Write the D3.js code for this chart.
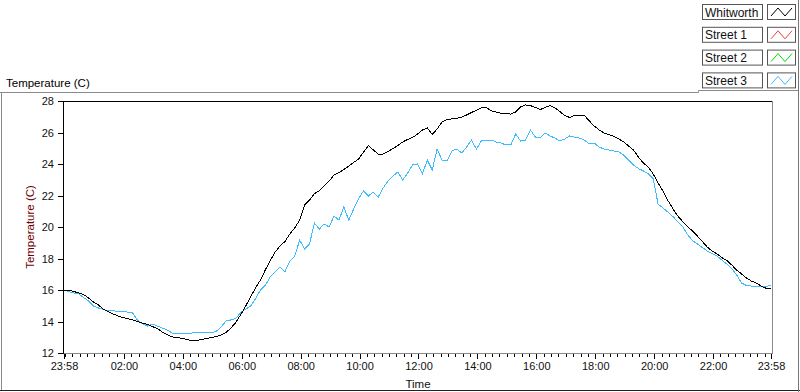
<!DOCTYPE html>
<html lang="en">
<head>
<meta charset="UTF-8">
<title>Temperature (C)</title>
<script src="https://d3js.org/d3.v7.min.js"></script>
<style>
  body { margin: 0; background: #fff; }
  svg { display: block; font-family: "Liberation Sans", Arial, sans-serif; }
</style>
</head>
<body>
<div id="chart"></div>
<script>
// readings every 10 minutes, from 23:58 to 23:58 next day
var startTime = new Date(2020, 0, 1, 23, 58)
var endTime = new Date(2020, 0, 2, 23, 58)
var stepMinutes = 10

var whitworth = [
  16.00, 15.98, 15.90, 15.82, 15.71, 15.49, 15.24, 15.05, 14.79, 14.63,
  14.48, 14.35, 14.25, 14.17, 14.10, 14.00, 13.90, 13.81, 13.68, 13.56,
  13.33, 13.16, 13.03, 12.98, 12.93, 12.86, 12.79, 12.79, 12.86, 12.91,
  12.98, 13.05, 13.14, 13.30, 13.59, 13.94, 14.44, 14.98, 15.56, 16.13,
  16.63, 17.27, 17.87, 18.41, 18.79, 19.08, 19.56, 19.94, 20.44, 21.40,
  21.71, 22.11, 22.30, 22.60, 22.92, 23.30, 23.46, 23.65, 23.87, 24.10,
  24.32, 24.76, 25.17, 24.89, 24.63, 24.63, 24.79, 24.98, 25.17, 25.40,
  25.56, 25.68, 25.90, 26.16, 26.29, 25.87, 26.22, 26.67, 26.83, 26.86,
  26.89, 26.98, 27.11, 27.27, 27.41, 27.56, 27.59, 27.38, 27.30, 27.22,
  27.21, 27.17, 27.30, 27.62, 27.75, 27.71, 27.59, 27.46, 27.59, 27.71,
  27.56, 27.33, 27.08, 26.95, 27.11, 27.11, 27.08, 26.73, 26.41, 26.16,
  25.97, 25.87, 25.75, 25.59, 25.40, 25.14, 24.89, 24.44, 24.06, 23.81,
  23.37, 22.79, 22.29, 21.68, 21.17, 20.70, 20.35, 20.03, 19.75, 19.43,
  19.08, 18.73, 18.48, 18.29, 18.06, 17.87, 17.59, 17.27, 17.02, 16.76,
  16.57, 16.44, 16.25, 16.11, 16.11
]

var street3 = [
  16.00, 15.90, 15.81, 15.75, 15.52, 15.30, 14.98, 14.86, 14.76, 14.67,
  14.70, 14.60, 14.63, 14.60, 14.54, 14.06, 13.87, 13.71, 13.84, 13.71,
  13.59, 13.46, 13.27, 13.21, 13.21, 13.21, 13.27, 13.33, 13.30, 13.27,
  13.30, 13.37, 13.65, 14.03, 14.10, 14.19, 14.57, 14.79, 14.98, 15.43,
  16.00, 16.29, 16.83, 17.14, 17.46, 17.17, 17.84, 18.16, 19.17, 18.60,
  18.92, 20.25, 19.87, 20.19, 20.00, 20.70, 20.44, 21.27, 20.44, 21.14,
  21.78, 22.29, 21.97, 22.22, 21.90, 22.48, 22.92, 23.24, 23.49, 22.98,
  23.43, 23.94, 24.00, 23.37, 24.25, 23.62, 24.95, 24.25, 24.19, 24.83,
  24.95, 24.70, 25.08, 25.52, 24.95, 25.46, 25.52, 25.52, 25.40, 25.33,
  25.21, 25.21, 25.90, 25.46, 25.52, 26.16, 25.71, 25.65, 25.97, 25.78,
  25.65, 25.46, 25.59, 25.78, 25.71, 25.65, 25.52, 25.27, 25.33, 25.08,
  24.95, 24.89, 24.83, 24.76, 24.57, 24.25, 23.94, 23.71, 23.56, 23.37,
  23.08, 21.46, 21.21, 20.95, 20.67, 20.35, 20.03, 19.52, 19.14, 18.92,
  18.70, 18.48, 18.32, 18.16, 17.90, 17.65, 17.37, 16.95, 16.44, 16.29,
  16.25, 16.25, 16.22, 16.22, 16.32
]

var legendNames = ["Whitworth", "Street 1", "Street 2", "Street 3"]
var legendColors = ["#000000", "#ff3b3b", "#00dd00", "#3fbcff"]
var yTicks = [12, 14, 16, 18, 20, 22, 24, 26, 28]
var majorHours = [2, 4, 6, 8, 10, 12, 14, 16, 18, 20, 22]

var W = 800, H = 392
var plot = {left: 64, right: 771, top: 101, bottom: 353}

var svg = d3.select("#chart").append("svg")
  .attr("width", W).attr("height", H)

// panel frames
svg.append("path")
  .attr("d", "M0,92.5H698.5V90.5H798.5")
  .attr("fill", "none").attr("stroke", "#8a8a8a")
svg.append("line").attr("x1", 1.5).attr("x2", 1.5).attr("y1", 92).attr("y2", 391)
  .attr("stroke", "#8a8a8a")
svg.append("line").attr("x1", 0).attr("x2", 800).attr("y1", 390.5).attr("y2", 390.5)
  .attr("stroke", "#222")
svg.append("line").attr("x1", 798.5).attr("x2", 798.5).attr("y1", 0).attr("y2", 392)
  .attr("stroke", "#777")

svg.append("text")
  .attr("x", 6).attr("y", 87)
  .style("font-size", "11.5px").attr("fill", "#000")
  .text("Temperature (C)")

var times = whitworth.map(function(d, i) { return d3.timeMinute.offset(startTime, i * stepMinutes) })

var x = d3.scaleTime().domain([startTime, endTime]).range([plot.left, plot.right])
var y = d3.scaleLinear().domain([12, 28]).range([plot.bottom, plot.top])

// plot frame
svg.append("line").attr("x1", plot.left - 1).attr("x2", 773).attr("y1", plot.top + 0.5).attr("y2", plot.top + 0.5)
  .attr("stroke", "#000")
svg.append("line").attr("x1", 772.5).attr("x2", 772.5).attr("y1", plot.top).attr("y2", plot.bottom + 1)
  .attr("stroke", "#8a8a8a")
svg.append("line").attr("x1", plot.left - 1).attr("x2", 773).attr("y1", plot.bottom + 0.5).attr("y2", plot.bottom + 0.5)
  .attr("stroke", "#8a8a8a")
svg.append("line").attr("x1", plot.left - 0.5).attr("x2", plot.left - 0.5).attr("y1", plot.top).attr("y2", plot.bottom + 1)
  .attr("stroke", "#000")

// y axis
var yAxis = svg.append("g")
  .attr("transform", "translate(" + (plot.left - 1) + ",0)")
  .call(d3.axisLeft(y).tickValues(yTicks).tickSize(5).tickPadding(4))
yAxis.select(".domain").remove()
yAxis.selectAll("text").style("font-size", "11px").attr("fill", "#111")

// x axis, major and minor ticks
var majorTicks = [startTime].concat(majorHours.map(function(h) { return new Date(2020, 0, 2, h, 0) })).concat([endTime])
var minorTicks = d3.timeMinute.every(15).range(startTime, endTime)
  .filter(function(d) { return d.getMinutes() !== 0 || d.getHours() % 2 !== 0 || d.getHours() === 0 })

var xMinor = svg.append("g")
  .attr("transform", "translate(0," + (plot.bottom + 1) + ")")
  .call(d3.axisBottom(x).tickValues(minorTicks).tickSize(3).tickFormat(""))
xMinor.select(".domain").remove()

var xAxis = svg.append("g")
  .attr("transform", "translate(0," + (plot.bottom + 1) + ")")
  .call(d3.axisBottom(x).tickValues(majorTicks).tickSize(5).tickPadding(3)
    .tickFormat(d3.timeFormat("%H:%M")))
xAxis.select(".domain").remove()
xAxis.selectAll("text").style("font-size", "11px").attr("fill", "#111")
svg.selectAll(".tick line").attr("stroke", "#000").attr("shape-rendering", "crispEdges")

svg.append("text")
  .attr("x", (plot.left + 772) / 2).attr("y", 388)
  .attr("text-anchor", "middle")
  .style("font-size", "11.5px").attr("fill", "#111")
  .text("Time")

svg.append("text")
  .attr("transform", "translate(34," + ((plot.top + plot.bottom) / 2) + ") rotate(-90)")
  .attr("text-anchor", "middle")
  .style("font-size", "11.5px").attr("fill", "#700000")
  .text("Temperature (C)")

// lines, drawn aliased like the original
var line = d3.line()
  .x(function(d, i) { return x(times[i]) })
  .y(function(d) { return y(d) })

svg.append("path")
  .datum(street3)
  .attr("d", line)
  .attr("fill", "none")
  .attr("stroke", legendColors[3])
  .attr("stroke-width", 1)
  .attr("shape-rendering", "crispEdges")

svg.append("path")
  .datum(whitworth)
  .attr("d", line)
  .attr("fill", "none")
  .attr("stroke", legendColors[0])
  .attr("stroke-width", 1)
  .attr("shape-rendering", "crispEdges")

// legend
var legend = svg.selectAll(".legend")
  .data(legendNames)
  .enter().append("g")
  .attr("class", "legend")
  .attr("transform", function(d, i) { return "translate(0," + (4 + i * 22.8) + ")" })

legend.append("rect")
  .attr("x", 702.5).attr("y", 0.5).attr("width", 60).attr("height", 15)
  .attr("fill", "#fff").attr("stroke", "#555")
legend.append("text")
  .attr("x", 705).attr("y", 12.5)
  .style("font-size", "12px").attr("fill", "#111")
  .text(function(d) { return d })
legend.append("rect")
  .attr("x", 767.5).attr("y", 0.5).attr("width", 28).attr("height", 15)
  .attr("fill", "#fff").attr("stroke", "#555")
legend.append("polyline")
  .attr("points", "771,12 778,4 785,12 792,4")
  .attr("fill", "none")
  .attr("stroke", function(d, i) { return legendColors[i] })
</script>
</body>
</html>
